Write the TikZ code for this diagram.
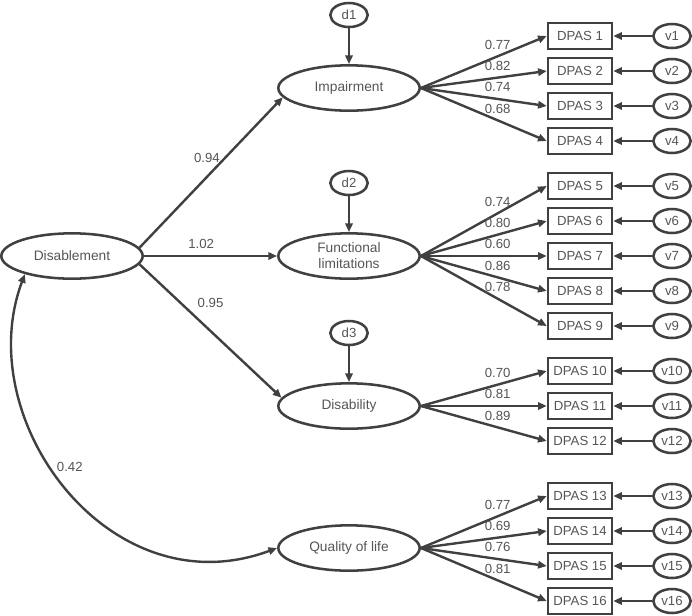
\documentclass[tikz,border=0pt]{standalone}
\usepackage{fontspec}
\setmainfont{Liberation Sans}
\usetikzlibrary{shapes.geometric,arrows.meta}

\definecolor{linegray}{RGB}{64,64,64}
\definecolor{textgray}{RGB}{85,85,85}

\tikzset{
  >={Triangle[length=6.5pt,width=5.5pt]},
  latent/.style={ellipse, draw=linegray, line width=1.9pt, minimum width=106pt, minimum height=34pt, inner sep=0pt, align=center, text=textgray, font=\fontsize{10.3}{12}\selectfont},
  errvar/.style={ellipse, draw=linegray, line width=1.9pt, minimum width=28pt, minimum height=18pt, inner sep=0pt, text=textgray},
  obsbox/.style={rectangle, draw=linegray, line width=1.9pt, minimum width=48pt, minimum height=19.5pt, inner sep=0pt, text=textgray},
  arr/.style={->, draw=linegray, line width=1.8pt},
  coef/.style={text=textgray}
}

\begin{document}
\begin{tikzpicture}[x=0.75pt,y=-0.75pt,font=\fontsize{9.9}{12}\selectfont]
\useasboundingbox (0,0) rectangle (692,615);

% Latent variables
\node[latent] (dis) at (72,256) {Disablement};
\node[latent] (imp) at (349,88) {Impairment};
\node[latent] (fun) at (349,256) {Functional\\limitations};
\node[latent] (dsb) at (349,406) {Disability};
\node[latent] (qol) at (349,548) {Quality of life};

% Disturbances
\node[errvar] (d1) at (349,15) {d1};
\node[errvar] (d2) at (349,183) {d2};
\node[errvar] (d3) at (349,333) {d3};

% Indicators and their errors
\node[obsbox] (p1) at (580,36) {DPAS 1};   \node[errvar] (v1) at (672,36) {v1};
\node[obsbox] (p2) at (580,71) {DPAS 2};   \node[errvar] (v2) at (672,71) {v2};
\node[obsbox] (p3) at (580,106) {DPAS 3};  \node[errvar] (v3) at (672,106) {v3};
\node[obsbox] (p4) at (580,141) {DPAS 4};  \node[errvar] (v4) at (672,141) {v4};
\node[obsbox] (p5) at (580,186) {DPAS 5};  \node[errvar] (v5) at (672,186) {v5};
\node[obsbox] (p6) at (580,221) {DPAS 6};  \node[errvar] (v6) at (672,221) {v6};
\node[obsbox] (p7) at (580,256) {DPAS 7};  \node[errvar] (v7) at (672,256) {v7};
\node[obsbox] (p8) at (580,291) {DPAS 8};  \node[errvar] (v8) at (672,291) {v8};
\node[obsbox] (p9) at (580,326) {DPAS 9};  \node[errvar] (v9) at (672,326) {v9};
\node[obsbox] (p10) at (580,371) {DPAS 10}; \node[errvar] (v10) at (672,371) {v10};
\node[obsbox] (p11) at (580,406) {DPAS 11}; \node[errvar] (v11) at (672,406) {v11};
\node[obsbox] (p12) at (580,441) {DPAS 12}; \node[errvar] (v12) at (672,441) {v12};
\node[obsbox] (p13) at (580,496) {DPAS 13}; \node[errvar] (v13) at (672,496) {v13};
\node[obsbox] (p14) at (580,531) {DPAS 14}; \node[errvar] (v14) at (672,531) {v14};
\node[obsbox] (p15) at (580,566) {DPAS 15}; \node[errvar] (v15) at (672,566) {v15};
\node[obsbox] (p16) at (580,601) {DPAS 16}; \node[errvar] (v16) at (672,601) {v16};

% Structural paths
\draw[arr] (dis.7) -- node[coef,left,pos=0.6] {0.94} (imp.188);
\draw[arr] (dis.east) -- node[coef,above=1pt,pos=0.43] {1.02} (fun.west);
\draw[arr] (dis.-7) -- node[coef,above right,pos=0.37] {0.95} (dsb.173);
\draw[arr,<->] (dis.201) .. controls (-30,420) and (110,610) .. node[coef,right,pos=0.44] {0.42} (qol.west);

% Disturbance arrows
\draw[arr] (d1) -- (imp);
\draw[arr] (d2) -- (fun);
\draw[arr] (d3) -- (dsb);

% Loadings
\draw[arr] (imp.east) -- node[coef,above=1pt,pos=0.61] {0.77} (p1.west);
\draw[arr] (imp.east) -- node[coef,above=1pt,pos=0.61] {0.82} (p2.west);
\draw[arr] (imp.east) -- node[coef,above=1pt,pos=0.61] {0.74} (p3.west);
\draw[arr] (imp.east) -- node[coef,above=1pt,pos=0.61] {0.68} (p4.west);
\draw[arr] (fun.east) -- node[coef,above=1pt,pos=0.61] {0.74} (p5.west);
\draw[arr] (fun.east) -- node[coef,above=1pt,pos=0.61] {0.80} (p6.west);
\draw[arr] (fun.east) -- node[coef,above=1pt,pos=0.61] {0.60} (p7.west);
\draw[arr] (fun.east) -- node[coef,above=1pt,pos=0.61] {0.86} (p8.west);
\draw[arr] (fun.east) -- node[coef,above=1pt,pos=0.61] {0.78} (p9.west);
\draw[arr] (dsb.east) -- node[coef,above=1pt,pos=0.61] {0.70} (p10.west);
\draw[arr] (dsb.east) -- node[coef,above=1pt,pos=0.61] {0.81} (p11.west);
\draw[arr] (dsb.east) -- node[coef,above=1pt,pos=0.61] {0.89} (p12.west);
\draw[arr] (qol.east) -- node[coef,above=1pt,pos=0.61] {0.77} (p13.west);
\draw[arr] (qol.east) -- node[coef,above=1pt,pos=0.61] {0.69} (p14.west);
\draw[arr] (qol.east) -- node[coef,above=1pt,pos=0.61] {0.76} (p15.west);
\draw[arr] (qol.east) -- node[coef,above=1pt,pos=0.61] {0.81} (p16.west);

% Error arrows
\draw[arr] (v1) -- (p1);   \draw[arr] (v2) -- (p2);   \draw[arr] (v3) -- (p3);   \draw[arr] (v4) -- (p4);
\draw[arr] (v5) -- (p5);   \draw[arr] (v6) -- (p6);   \draw[arr] (v7) -- (p7);   \draw[arr] (v8) -- (p8);
\draw[arr] (v9) -- (p9);   \draw[arr] (v10) -- (p10); \draw[arr] (v11) -- (p11); \draw[arr] (v12) -- (p12);
\draw[arr] (v13) -- (p13); \draw[arr] (v14) -- (p14); \draw[arr] (v15) -- (p15); \draw[arr] (v16) -- (p16);

\end{tikzpicture}
\end{document}
